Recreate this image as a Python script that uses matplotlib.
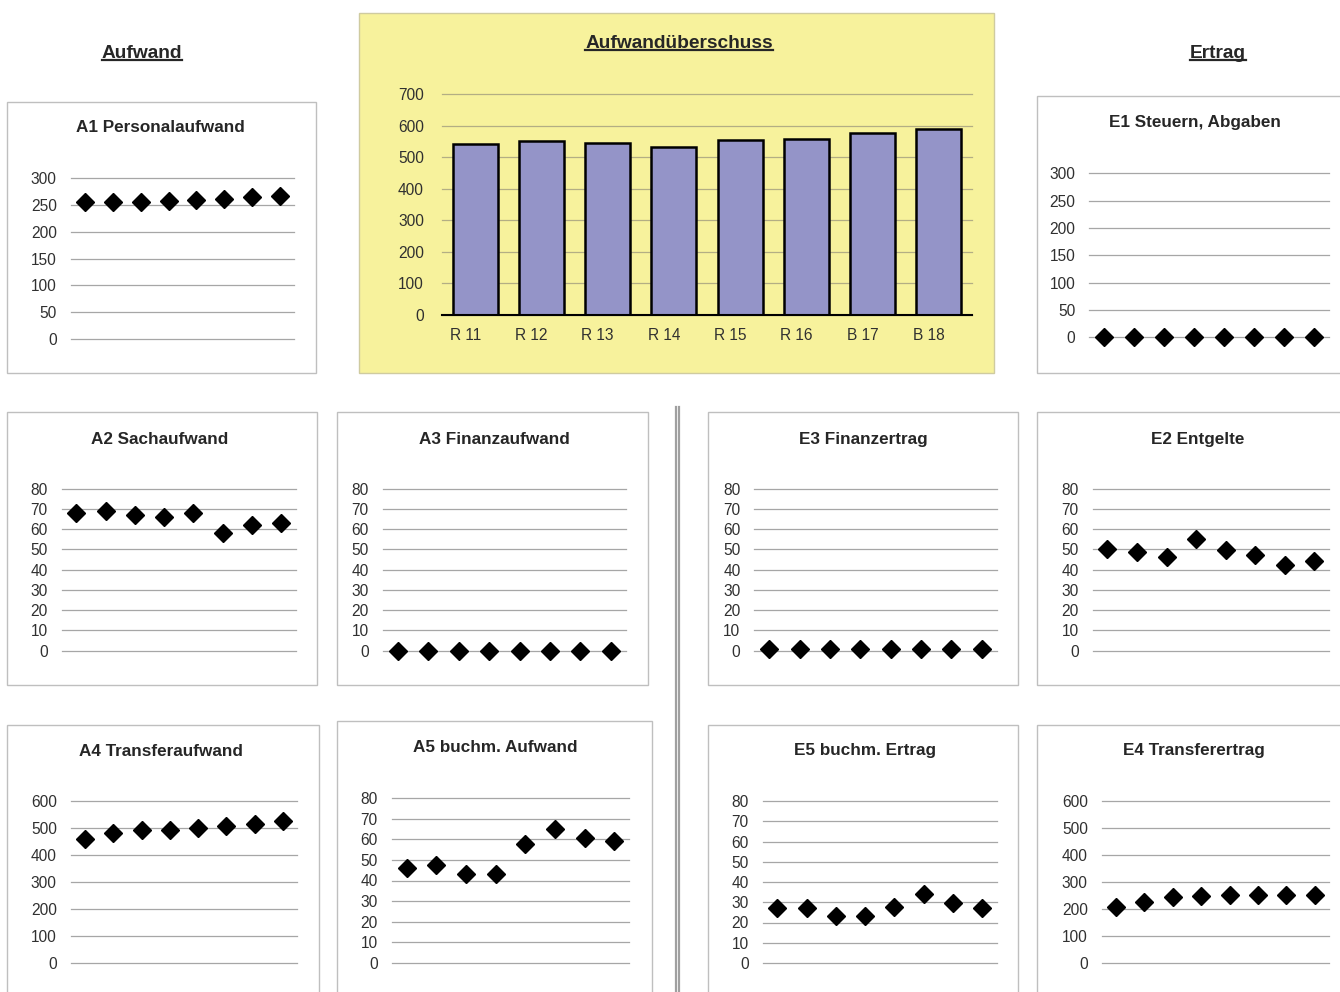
import matplotlib
matplotlib.use("Agg")
import matplotlib.pyplot as plt
import matplotlib.transforms as mtransforms
from matplotlib.patches import Rectangle
from matplotlib.lines import Line2D

plt.rcParams["font.family"] = ["Liberation Sans", "DejaVu Sans"]

W, H = 1340, 992

years = ["R 11", "R 12", "R 13", "R 14", "R 15", "R 16", "B 17", "B 18"]

ueberschuss = [541, 550, 545, 533, 554, 559, 577, 589]

a1_personal = [256, 256, 256, 257, 260, 262, 265, 267]
a2_sach = [68, 69, 67, 66, 68, 58, 62, 63]
a3_finanz = [0, 0, 0, 0, 0, 0, 0, 0]
a4_transfer = [459, 480, 491, 494, 500, 507, 514, 526]
a5_buchm = [46, 47.5, 43, 43, 57.5, 65, 60.5, 59]

e1_steuern = [0, 0, 0, 0, 0, 0, 0, 0]
e2_entgelte = [50, 48.5, 46.5, 55, 49.5, 47.5, 42.5, 44.5]
e3_finanz = [0.8, 0.8, 0.8, 0.8, 0.8, 0.8, 0.8, 0.8]
e4_transfer = [207, 226, 243, 248, 253, 252, 253, 253]
e5_buchm = [27, 27, 23, 23, 27.5, 34, 29.5, 27]

TEXT = "#262626"
GRID = "#A6A6A6"

fig = plt.figure(figsize=(W / 100, H / 100), dpi=100)


def frac(x0, y0, x1, y1):
    # pixel box (top-left origin) -> figure fraction rect
    return [x0 / W, 1 - y1 / H, (x1 - x0) / W, (y1 - y0) / H]


def panel_box(x0, y0, x1, y1, face="white", edge="#BFBFBF"):
    fig.add_artist(Rectangle((x0 / W, 1 - y1 / H), (x1 - x0) / W, (y1 - y0) / H,
                             transform=fig.transFigure, facecolor=face,
                             edgecolor=edge, lw=1, zorder=0))


def scatter_panel(box, plot, title, title_xy, values, ymax, ystep):
    panel_box(*box)
    ax = fig.add_axes(frac(*plot))
    ax.set_facecolor("none")
    ax.plot(range(len(values)), values, linestyle="none", marker="D", ms=9,
            color="black", clip_on=False, zorder=3)
    ax.set_xlim(-0.5, len(values) - 0.5)
    ax.set_ylim(0, ymax)
    ax.set_yticks(range(0, ymax + 1, ystep))
    ax.yaxis.grid(True, color=GRID, lw=0.9)
    for gl in ax.get_ygridlines():
        gl.set_clip_on(False)
    ax.set_axisbelow(True)
    ax.set_xticks([])
    ax.tick_params(axis="y", length=0, pad=10, labelsize=11.2, labelcolor="#303030")
    for s in ax.spines.values():
        s.set_visible(False)
    fig.text(title_xy[0] / W, 1 - title_xy[1] / H, title, ha="center", va="center",
             fontsize=12.3, fontweight="bold", color=TEXT)
    return ax


# Aufwand side
scatter_panel((6.5, 101.5, 315.5, 373), (70.7, 178.3, 294.3, 339),
              "A1 Personalaufwand", (160, 128), a1_personal, 300, 50)
scatter_panel((6.5, 412, 316.5, 685), (61.7, 488.7, 296, 650.7),
              "A2 Sachaufwand", (160, 439), a2_sach, 80, 10)
scatter_panel((336.5, 412, 648, 685), (382.7, 488.7, 626, 650.7),
              "A3 Finanzaufwand", (494, 439), a3_finanz, 80, 10)
scatter_panel((6.5, 724.5, 318.5, 1000), (70.7, 801, 297.3, 963),
              "A4 Transferaufwand", (161, 751), a4_transfer, 600, 100)
scatter_panel((336.5, 721, 651.5, 1000), (391.7, 798, 629.3, 963),
              "A5 buchm. Aufwand", (495, 748), a5_buchm, 80, 10)

# Ertrag side
scatter_panel((1037, 96.5, 1360, 373), (1089.3, 173.3, 1329, 337.3),
              "E1 Steuern, Abgaben", (1195, 122), e1_steuern, 300, 50)
scatter_panel((707.5, 412.5, 1018, 685), (754.3, 488.7, 996.7, 650.7),
              "E3 Finanzertrag", (863, 439), e3_finanz, 80, 10)
scatter_panel((1037, 412, 1360, 685), (1092.7, 488.7, 1329, 650.7),
              "E2 Entgelte", (1198, 439), e2_entgelte, 80, 10)
scatter_panel((707.5, 724.5, 1018, 1000), (762.7, 801, 996.7, 963),
              "E5 buchm. Ertrag", (865, 751), e5_buchm, 80, 10)
scatter_panel((1037, 724.5, 1360, 1000), (1101.7, 801, 1329, 963),
              "E4 Transferertrag", (1194, 751), e4_transfer, 600, 100)

# central bar chart
panel_box(358.5, 12.5, 994, 373, face="#F7F29C", edge="#CFCBA0")
ax = fig.add_axes(frac(442, 94, 972, 315))
ax.set_facecolor("none")
ax.bar(range(len(years)), ueberschuss, width=0.68, color="#9494C8",
       edgecolor="black", lw=1.8, zorder=3)
ax.set_xlim(-0.5, len(years) - 0.5)
ax.set_ylim(0, 700)
ax.set_yticks(range(0, 701, 100))
ax.set_xticks(range(len(years)))
ax.set_xticklabels(years)
ax.yaxis.grid(True, color="#B3AE84", lw=0.9)
for gl in ax.get_ygridlines():
    gl.set_clip_on(False)
ax.set_axisbelow(True)
ax.tick_params(axis="both", length=0, labelsize=11.2, labelcolor="#303030")
ax.tick_params(axis="y", pad=13)
ax.tick_params(axis="x", pad=9)
shift = mtransforms.ScaledTranslation(-10 / 100, 0, fig.dpi_scale_trans)
for lbl in ax.get_xticklabels():
    lbl.set_transform(lbl.get_transform() + shift)
for name, s in ax.spines.items():
    s.set_visible(name == "bottom")
ax.spines["bottom"].set_color("black")
ax.spines["bottom"].set_linewidth(1.5)
ax.spines["bottom"].set_zorder(4)

# separator between Aufwand and Ertrag
for x in (675.5, 679.5):
    fig.add_artist(Line2D([x / W, x / W], [1 - 407 / H, 0], transform=fig.transFigure,
                          color="#A0A0A0", lw=1.6))

# underlined headers
headers = []
for text, x, y in [("Aufwand", 142, 53), ("Ertrag", 1218, 53), ("Aufwandüberschuss", 679, 43)]:
    headers.append(fig.text(x / W, 1 - y / H, text, ha="center", va="center",
                            fontsize=13.8, fontweight="bold", color=TEXT))

fig.canvas.draw()
renderer = fig.canvas.get_renderer()
for t in headers:
    bb = t.get_window_extent(renderer)
    yl = (bb.y0 + 1.5) / H
    fig.add_artist(Line2D([bb.x0 / W, bb.x1 / W], [yl, yl], transform=fig.transFigure,
                          color=TEXT, lw=1.6))

fig.savefig("out.png", dpi=100)
